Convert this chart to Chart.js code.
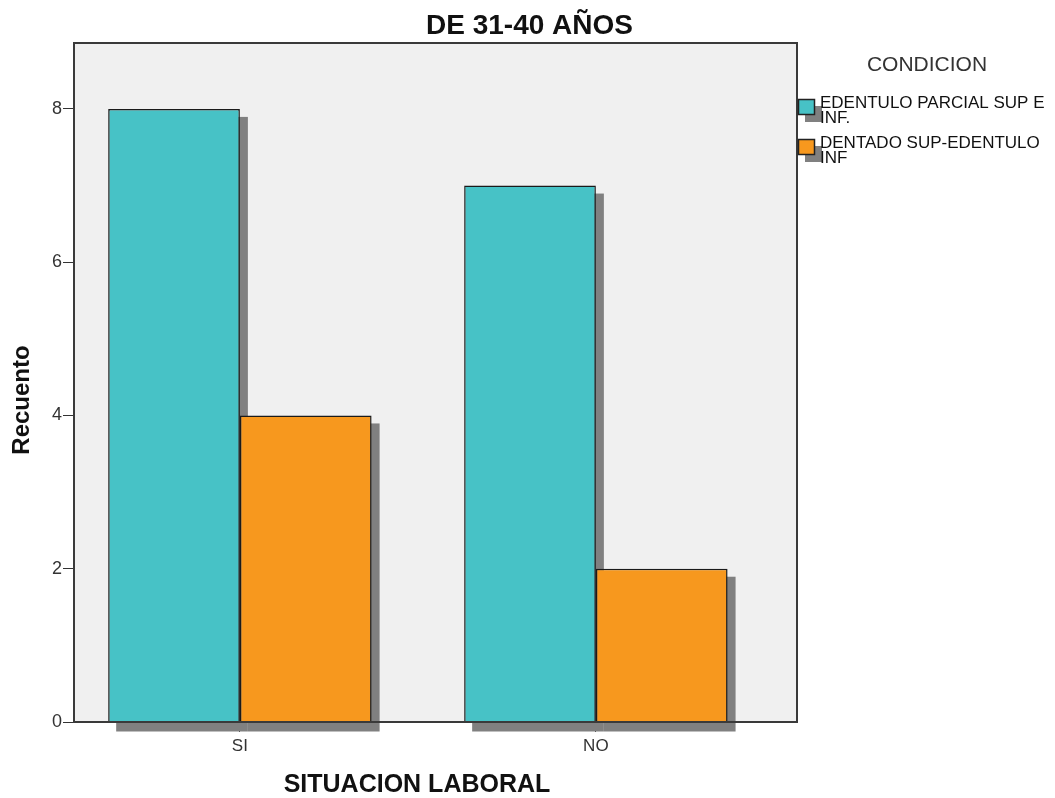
<!DOCTYPE html>
<html>
<head>
<meta charset="utf-8">
<script src="https://cdn.jsdelivr.net/npm/chart.js@4/dist/chart.umd.min.js"></script>
<style>
  html, body { margin: 0; padding: 0; background: #fff; }
</style>
</head>
<body>
<canvas id="chart" width="1055" height="798" style="width:1055px;height:798px"></canvas>
<script>
// data
const categories = ["SI", "NO"];
const seriesLabels = [["EDENTULO PARCIAL SUP E", "INF."], ["DENTADO SUP-EDENTULO", "INF"]];
const edentuloParcial = [8, 7];
const dentadoSupEdentuloInf = [4, 2];
const yTicks = [0, 2, 4, 6, 8];

const colors = ["#47c2c6", "#f7981e"];
const shadowColor = "#808080";
const font = "'Liberation Sans', Arial, sans-serif";

// SPSS look: grey plot background, dropped shadows, frame, titles, legend
const spssLook = {
  id: "spssLook",
  beforeDraw(chart) {
    const { ctx, chartArea: a } = chart;
    ctx.save();
    ctx.fillStyle = "#f0f0f0";
    ctx.fillRect(a.left, a.top, a.right - a.left, a.bottom - a.top);
    ctx.restore();
  },
  beforeDatasetsDraw(chart) {
    const ctx = chart.ctx;
    ctx.save();
    ctx.fillStyle = shadowColor;
    chart.data.datasets.forEach((ds, i) => {
      chart.getDatasetMeta(i).data.forEach(bar => {
        const p = bar.getProps(["x", "y", "base", "width"], true);
        ctx.fillRect(p.x - p.width / 2 + 8, p.y + 8, p.width, p.base - p.y + 2);
      });
    });
    ctx.restore();
  },
  afterDatasetsDraw(chart) {
    const { ctx, chartArea: a } = chart;
    ctx.save();
    ctx.strokeStyle = "#3a3a3a";
    ctx.lineWidth = 2;
    ctx.strokeRect(a.left, a.top, a.right - a.left, a.bottom - a.top);
    ctx.restore();
  },
  afterDraw(chart) {
    const { ctx, chartArea: a } = chart;
    ctx.save();
    ctx.fillStyle = "#111";
    ctx.textAlign = "center";
    ctx.textBaseline = "middle";

    ctx.font = "bold 28px " + font;
    ctx.fillText("DE 31-40 AÑOS", chart.width / 2 + 2, 26);

    ctx.font = "bold 25px " + font;
    ctx.fillText("SITUACION LABORAL", 417, 785);

    ctx.font = "bold 24px " + font;
    ctx.save();
    ctx.translate(22, 400);
    ctx.rotate(-Math.PI / 2);
    ctx.fillText("Recuento", 0, 0);
    ctx.restore();

    // legend
    const lx = a.right + 1;
    ctx.fillStyle = "#333";
    ctx.font = "21px " + font;
    ctx.fillText("CONDICION", 927, 65);

    ctx.textAlign = "left";
    ctx.font = "17px " + font;
    const rows = [99, 139];
    seriesLabels.forEach((lines, i) => {
      const top = rows[i];
      ctx.fillStyle = shadowColor;
      ctx.fillRect(lx + 7, top + 7, 17, 16);
      ctx.fillStyle = colors[i];
      ctx.fillRect(lx, top, 17, 16);
      ctx.strokeStyle = "#222";
      ctx.lineWidth = 1.5;
      ctx.strokeRect(lx + 0.5, top + 0.5, 16, 15);
      ctx.fillStyle = "#111";
      lines.forEach((t, j) => ctx.fillText(t, lx + 22, top + 4 + j * 15));
    });
    ctx.restore();
  }
};

const datasets = [edentuloParcial, dentadoSupEdentuloInf].map((vals, i) => ({
  label: seriesLabels[i].join(" "),
  data: categories.map((c, k) => ({ x: k, y: vals[k] })),
  backgroundColor: colors[i],
  borderColor: "#1a1a1a",
  borderWidth: 1.5,
  categoryPercentage: 0.74,
  barPercentage: 1
}));

new Chart(document.getElementById("chart").getContext("2d"), {
  type: "bar",
  data: { datasets },
  options: {
    responsive: false,
    animation: false,
    layout: { padding: { top: 43, right: 258, left: 0, bottom: 0 } },
    plugins: {
      legend: { display: false },
      title: { display: false },
      tooltip: { enabled: false }
    },
    scales: {
      x: {
        type: "linear",
        offset: false,
        min: -0.466,
        max: 1.565,
        afterBuildTicks: axis => { axis.ticks = categories.map((c, k) => ({ value: k })); },
        afterFit: scale => { scale.height = 76; },
        ticks: {
          callback: v => categories[v],
          color: "#333",
          font: { family: font, size: 17 },
          padding: 4
        },
        grid: { offset: false, drawOnChartArea: false, drawTicks: true, tickLength: 10, color: "#333" },
        border: { display: false }
      },
      y: {
        min: 0,
        max: 8.86,
        afterBuildTicks: axis => { axis.ticks = yTicks.map(v => ({ value: v })); },
        afterFit: scale => { scale.width = 74; },
        ticks: {
          color: "#333",
          font: { family: font, size: 18 },
          padding: 1
        },
        grid: { drawOnChartArea: false, drawTicks: true, tickLength: 11, color: "#333" },
        border: { display: false }
      }
    }
  },
  plugins: [spssLook]
});
</script>
</body>
</html>
